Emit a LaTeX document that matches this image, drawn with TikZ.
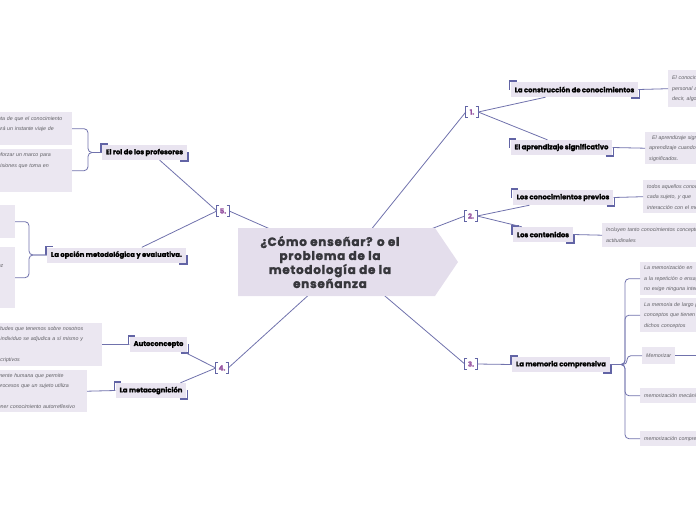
\documentclass[tikz,border=0pt]{standalone}
\usepackage{fontspec}
\setmainfont{Poppins}[BoldFeatures={FakeBold=1.6}]
\newfontfamily\leaffont{Liberation Sans}
\definecolor{MapLine}{RGB}{112,114,172}
\definecolor{MapCorner}{RGB}{98,100,165}
\definecolor{MapLav}{RGB}{233,228,240}
\definecolor{CtrLav}{RGB}{228,222,236}
\definecolor{LeafLav}{RGB}{235,231,241}
\definecolor{NumPurple}{RGB}{150,82,160}
\definecolor{LeafGrey}{RGB}{95,95,100}
\definecolor{CtrText}{RGB}{55,55,60}
\tikzset{
  mapline/.style={draw=MapLine, line width=0.8pt},
  corner/.style={draw=MapCorner, line width=1.6pt},
  numbrk/.style={draw=MapCorner, line width=0.9pt},
  branch/.style={fill=MapLav, text=black, font=\bfseries\fontsize{6.8}{8}\selectfont, inner xsep=4pt, inner ysep=0pt, minimum height=15pt},
  numlbl/.style={text=NumPurple, font=\bfseries\fontsize{7}{8}\selectfont, minimum width=12pt, minimum height=11pt, inner sep=0pt},
  leaf/.style={fill=LeafLav, text=LeafGrey, font=\leaffont\itshape\fontsize{5.3}{10.5}\selectfont, align=left, inner xsep=4pt, inner ysep=3pt},
  rleaf/.style={leaf, anchor=north west, text width=120pt},
  lleaf/.style={leaf, anchor=north east},
  ctrtext/.style={text=CtrText, font=\bfseries\fontsize{12}{14}\selectfont\addfontfeatures{LetterSpace=6}, align=center, inner sep=0pt},
}
\begin{document}
\begin{tikzpicture}[x=1pt,y=-1pt]
  \useasboundingbox (0,0) rectangle (696,520);
  \clip (0,0) rectangle (696,520);

  % Numbered hubs
  \coordinate (hub) at (345,262);
  \node[numlbl] (n1) at (472,112) {1.};
  \node[numlbl] (n2) at (471,216) {2.};
  \node[numlbl] (n3) at (471,364) {3.};
  \node[numlbl] (n4) at (222,368) {4.};
  \node[numlbl] (n5) at (223,211) {5.};
  \foreach \n/\a in {n1/west, n2/west, n3/west, n4/east, n5/east}{
    \draw[mapline] (hub) -- (\n.\a);
  }
  \foreach \n in {n1,n2,n3,n4,n5}{
    \draw[numbrk] ([xshift=2.5pt]\n.north west) -- (\n.north west) -- (\n.south west) -- ([xshift=2.5pt]\n.south west);
    \draw[numbrk] ([xshift=-2.5pt]\n.north east) -- (\n.north east) -- (\n.south east) -- ([xshift=-2.5pt]\n.south east);
  }

  % Central topic
  \fill[CtrLav] (238,228) -- (435,228) -- (458,262) -- (435,296) -- (238,296) -- cycle;
  \node[ctrtext] (ctr) at (330,262) {¿Cómo enseñar? o el\\problema de la\\metodología de la\\enseñanza};

  % Main branches
  \node[branch] (b11) at (574.5,89.5) {La construcción de conocimientos};
  \node[branch] (b12) at (561.5,147.5) {El aprendizaje significativo};
  \node[branch] (b21) at (563,197.5) {Los conocimientos previos};
  \node[branch] (b22) at (543,234.5) {Los contenidos};
  \node[branch] (b31) at (561,364.5) {La memoria comprensiva};
  \node[branch] (b51) at (144.5,152.5) {El rol de los profesores};
  \node[branch] (b52) at (116.5,255) {La opción metodológica y evaluativa.};
  \node[branch] (b41) at (158.5,344.5) {Autoconcepto};
  \node[branch] (b42) at (151,390.5) {La metacognición};
  \foreach \b in {b11,b12,b21,b22,b31,b51,b52,b41,b42}{
    \draw[corner] ([shift={(-1pt,-8pt)}]\b.north west) -- ([shift={(-1pt,1pt)}]\b.north west) -- ([shift={(6pt,1pt)}]\b.north west);
    \draw[corner] ([shift={(-7pt,-1pt)}]\b.south east) -- ([shift={(1pt,-1pt)}]\b.south east) -- ([shift={(1pt,8pt)}]\b.south east);
  }

  \draw[mapline] (n1.east) -- ([xshift=35pt]b11.south west);
  \draw[mapline] (n1.east) -- ([xshift=37pt]b12.north west);
  \draw[mapline] (n2.east) -- ([xshift=17pt]b21.south west);
  \draw[mapline] (n2.east) -- ([xshift=9pt]b22.north west);
  \draw[mapline] (n3.east) -- (b31.west);
  \draw[mapline] (n5.west) -- ([xshift=58pt]b51.south west);
  \draw[mapline] (n5.west) -- ([xshift=95pt]b52.north west);
  \draw[mapline] (n4.west) -- ([xshift=55pt]b41.south west);
  \draw[mapline] (n4.west) -- ([xshift=65pt]b42.north west);

  % Right leaves
  \node[rleaf, minimum height=37pt] (l11) at (668,70) {El conocimiento es\\personal a partir\\decir, algo que};
  \node[rleaf, minimum height=32pt] (l12) at (645,132) {\hspace{3pt}El aprendizaje significativo\\aprendizaje cuando\\significados.};
  \node[rleaf, minimum height=33pt] (l21) at (643,180) {todos aquellos conocimientos\\cada sujeto, y que\\interacción con el medio};
  \node[rleaf, minimum height=24pt] (l22) at (602,223) {Incluyen tanto conocimientos conceptuales\\actitudinales};
  \foreach \b/\l in {b11/l11, b12/l12, b21/l21, b22/l22}{
    \draw[mapline] (\b.east) -- (\l.west);
  }

  \node[rleaf, minimum height=33pt] (l31) at (640,262) {La memorización en\\a la repetición o ensayo\\no exige ninguna intención};
  \node[rleaf, minimum height=34pt] (l32) at (640,298) {La memoria de largo plazo\\conceptos que tienen\\dichos conceptos};
  \node[leaf, anchor=north west, minimum height=17pt] (l33) at (642,347) {Memorizar};
  \node[rleaf, minimum height=15pt] (l34) at (640,388) {memorización mecánica};
  \node[rleaf, minimum height=15pt] (l35) at (640,431) {memorización comprensiva};
  \foreach \l in {l31,l32,l33,l34,l35}{
    \draw[mapline, rounded corners=4pt] (b31.east) -| ([xshift=-15pt]\l.west) -- (\l.west);
  }
  \draw[mapline] (l33.east) -- ++(40,0);

  % Left leaves
  \node[lleaf, text width=70pt, minimum height=33pt] (l51a) at (72,112) {nta de que el conocimiento\\ará un instante viaje de\\\mbox{}};
  \node[lleaf, text width=70pt, minimum height=43pt] (l51b) at (72,149) {eforzar un marco para\\cisiones que toma en\\\mbox{}\\\mbox{}};
  \node[lleaf, text width=13pt, minimum height=33pt] (l52a) at (15,205) {\mbox{}\\\mbox{}\\\mbox{}};
  \node[lleaf, text width=13pt, minimum height=61pt] (l52b) at (15,247) {\mbox{}\\ez\\\mbox{}\\\mbox{}\\\mbox{}};
  \node[lleaf, text width=100pt, minimum height=42pt] (l41) at (102,323) {titudes que tenemos sobre nosotros\\l individuo se adjudica a sí mismo y\\\mbox{}\\scriptivos};
  \node[lleaf, text width=85pt, minimum height=42pt] (l42) at (87,370) {mente humana que permite\\procesos que un sujeto utiliza\\\mbox{}\\ener conocimiento autorreflexivo};
  \foreach \b/\l/\s in {b51/l51a/16, b51/l51b/16, b52/l52a/14, b52/l52b/14}{
    \draw[mapline, rounded corners=4pt] (\b.west) -| ([xshift=\s pt]\l.east) -- (\l.east);
  }
  \draw[mapline] (b41.west) -- (l41.east);
  \draw[mapline] (b42.west) -- (l42.east);
\end{tikzpicture}
\end{document}
